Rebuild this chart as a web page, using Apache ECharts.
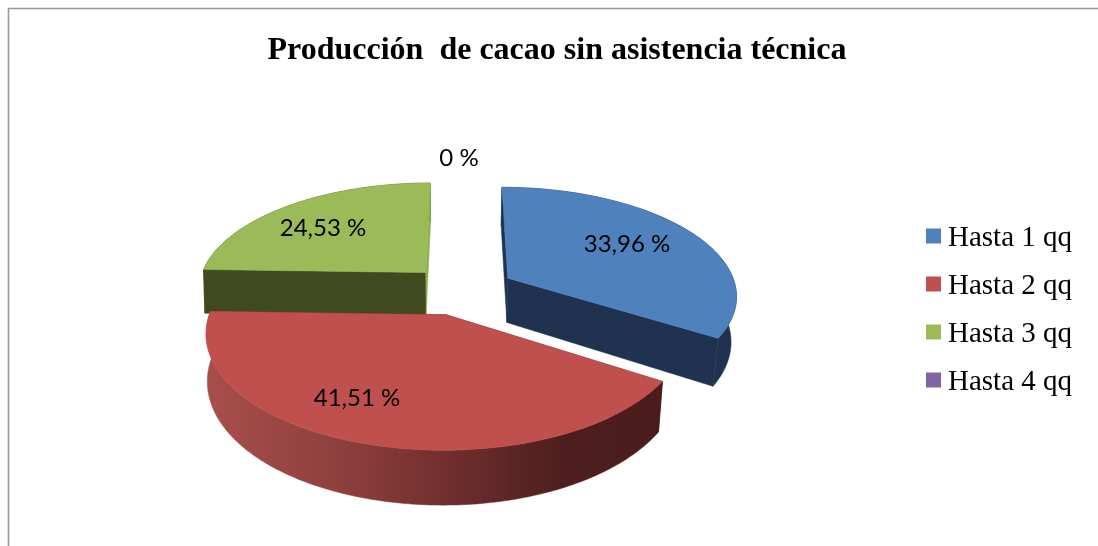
<!DOCTYPE html>
<html>
<head>
<meta charset="utf-8">
<script src="https://cdn.jsdelivr.net/npm/echarts@6/dist/echarts.min.js"></script>
<style>html,body{margin:0;padding:0;background:#fff}#c{width:1098px;height:546px}</style>
</head>
<body>
<div id="c"></div>
<script>
const titleText = 'Producción  de cacao sin asistencia técnica';
const categories = ['Hasta 1 qq', 'Hasta 2 qq', 'Hasta 3 qq', 'Hasta 4 qq'];
const values = [33.96, 41.51, 24.53, 0];

const topColors = ['#4F81BD', '#C0504D', '#9BBB59', '#8064A2'];
const paintOrder = [2, 3, 1, 4];
const labelAnchors = [[627, 244], [357, 398], [323, 228], [459, 158]];

// Projection of the tilted, exploded disc
const disc = {cx: 462, cy: 290, rx: 229, ry: 107.5, k: 0.1475, depth: 45, taperLeft: 0.995, taperRight: 0.98, explode: 0.232};

function project(u, v, down) {
  const s = 1 / (1 - disc.k * v);
  let x = disc.rx * u * s;
  if (down) x *= x < 0 ? disc.taperLeft : disc.taperRight;
  return [disc.cx + x, disc.cy + disc.ry * v * s + (down ? disc.depth * s : 0)];
}
const total = values.reduce((a, b) => a + b, 0);
function rimAt(theta, ox, oy, down) {
  return project(Math.sin(theta) + ox, -Math.cos(theta) + oy, down);
}
function arc(a0, a1, ox, oy, down) {
  const pts = [];
  const n = Math.max(2, Math.ceil(Math.abs(a1 - a0) / (Math.PI / 180)));
  for (let i = 0; i <= n; i++) pts.push(rimAt(a0 + (a1 - a0) * i / n, ox, oy, down));
  return pts;
}

const redRim = {type: 'linear', x: 205, y: 0, x2: 660, y2: 0, global: true, colorStops: [
  {offset: 0, color: '#A84F4C'}, {offset: 0.3, color: '#8E3F3D'}, {offset: 0.55, color: '#6E2E2D'},
  {offset: 0.78, color: '#4E1F1E'}, {offset: 1, color: '#4A1C1C'}]};
const wallStyles = [
  {rim: '#1F3350', startCut: '#1F3350', endCut: '#1F3350'},
  {rim: redRim, startCut: '#4A1C1C', endCut: '#4A1C1C'},
  {rim: '#3F4A20', startCut: '#3F4A20', endCut: '#8FAD50'},
  {rim: '#3F3150', startCut: '#3F3150', endCut: '#3F3150'}
];

function makeRender(i) {
  return function (params, api) {
    const v = api.value(0);
    const startShare = values.slice(0, i).reduce((a, b) => a + b, 0) / total;
    const a0 = startShare * 2 * Math.PI;
    const a1 = a0 + v / total * 2 * Math.PI;
    const mid = (a0 + a1) / 2;
    const ox = disc.explode * Math.sin(mid);
    const oy = -disc.explode * Math.cos(mid);
    const children = [];
    const poly = (points, fill, stroke) => children.push({
      type: 'polygon', shape: {points: points},
      style: {fill: fill, stroke: stroke || fill, lineWidth: 0.5}
    });
    if (v > 0) {
      const w = wallStyles[i];
      const apexT = project(ox, oy, false), apexB = project(ox, oy, true);
      const topArc = arc(a0, a1, ox, oy, false);
      const botArc = arc(a0, a1, ox, oy, true);
      poly(topArc.concat(botArc.slice().reverse()), w.rim);
      poly([apexT, topArc[0], botArc[0], apexB], w.startCut);
      poly([apexT, topArc[topArc.length - 1], botArc[botArc.length - 1], apexB], w.endCut);
      poly([apexT].concat(topArc), topColors[i]);
    }
    children.push({
      type: 'text', z2: 10,
      style: {
        x: labelAnchors[i][0], y: labelAnchors[i][1],
        text: (v === 0 ? '0' : v.toFixed(2).replace('.', ',')) + ' %',
        font: '24px Lato', fill: '#000', align: 'center', verticalAlign: 'middle'
      }
    });
    return {type: 'group', children: children};
  };
}

const chart = echarts.init(document.getElementById('c'), null, {renderer: 'canvas'});
chart.setOption({
  animation: false,
  backgroundColor: '#fff',
  title: {
    text: titleText, left: 552, top: 30, textAlign: 'center',
    textStyle: {fontFamily: 'Liberation Serif', fontWeight: 'bold', fontSize: 32, color: '#000'}
  },
  legend: {
    orient: 'vertical', left: 926, top: 224, padding: 0, itemWidth: 15, itemHeight: 15, itemGap: 19,
    icon: 'rect', data: categories,
    formatter: name => '{t|' + name + '}',
    textStyle: {rich: {t: {fontFamily: 'Liberation Serif', fontSize: 29, color: '#000', padding: [5, 0, 0, 2]}}}
  },
  graphic: [{
    type: 'polyline', shape: {points: [[8.5, 546], [8.5, 8.5], [1098, 8.5]]},
    style: {fill: null, stroke: '#999', lineWidth: 1.6}
  }],
  series: categories.map((name, i) => ({
    type: 'custom', name: name, coordinateSystem: 'none', z: paintOrder[i],
    itemStyle: {color: topColors[i]},
    renderItem: makeRender(i),
    data: [[values[i]]],
    silent: true
  }))
});
</script>
</body>
</html>
